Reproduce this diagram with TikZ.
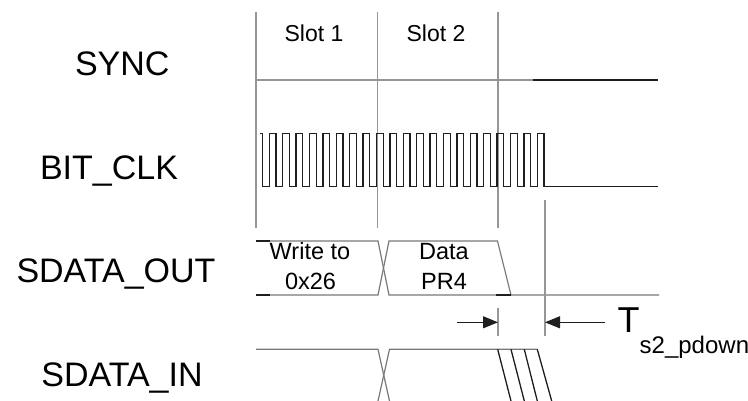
\documentclass[tikz,border=0pt]{standalone}
\usepackage{fontspec}
\setmainfont{Liberation Sans}
\usetikzlibrary{arrows.meta}
\definecolor{grid}{RGB}{150,150,150}
\definecolor{wave}{RGB}{120,120,120}
\definecolor{ink}{RGB}{30,30,30}
\tikzset{
  sig/.style={font=\fontsize{34}{40}\selectfont, inner sep=0pt, anchor=base, text=black},
  slotlab/.style={font=\fontsize{23}{27}\selectfont, inner sep=0pt, anchor=base, text=black},
  datalab/.style={font=\fontsize{23.5}{27}\selectfont, inner sep=0pt, anchor=base, text=black},
  gridline/.style={draw=grid, line width=1.3pt},
  graywave/.style={draw=wave, line width=1.2pt},
  darkwave/.style={draw=ink, line width=1.3pt},
  dimarrow/.style={draw=ink, line width=1pt, -{Triangle[length=15pt,width=12pt]}},
}
\begin{document}
\begin{tikzpicture}[x=1pt,y=-1pt]
\useasboundingbox (0,0) rectangle (748,401);
% labels
\node[sig] (lsync) at (122.3,75.7) {SYNC};
\node[sig] (lclk) at (109,179.3) {BIT\_CLK};
\node[sig] (lout) at (116,282.7) {SDATA\_OUT};
\node[sig] (lin) at (122,386) {SDATA\_IN};
\node[slotlab] (s1) at (314,41.7) {Slot 1};
\node[slotlab] (s2) at (436,41.7) {Slot 2};
% slot grid lines
\draw[gridline] (256,12) -- (256,228);
\draw[gridline] (377.5,12) -- (377.5,228);
\draw[gridline] (498,12) -- (498,228);
% SYNC
\draw[gridline] (256,80) -- (533,80);
\draw[darkwave] (533,80) -- (658,80);
% BIT_CLK
\draw[darkwave] (260,133.3) -- (262.7,133.3) -- (262.7,186.7)
  \foreach \k in {0,...,20}{
    -- ({269.3+13.4*\k},186.7) -- ({269.3+13.4*\k},133.3)
    -- ({276+13.4*\k},133.3) -- ({276+13.4*\k},186.7)
  } -- (658,186.7);
% SDATA_OUT
\draw[graywave] (256,241) -- (378,241) -- (389,295) -- (511,295) -- (659,295);
\draw[graywave] (256,295) -- (378,295) -- (389,241) -- (497.5,241) -- (511,295);
\draw[darkwave] (256,241) -- (270,241);
\draw[darkwave] (256,295) -- (270,295);
\draw[darkwave] (496,295) -- (511,295);
\node[datalab] (w1) at (310,260) {Write to};
\node[datalab] (w2) at (310.5,289.3) {0x26};
\node[datalab] (d1) at (444,260) {Data};
\node[datalab] (d2) at (444,289.3) {PR4};
% SDATA_IN
\draw[graywave] (256,349.3) -- (378,349.3) -- (389.5,401);
\draw[graywave] (378,401) -- (389.5,349.3) -- (537.3,349.3);
\draw[darkwave] (497.7,349.3) -- (511,401);
\draw[darkwave] (511,349.3) -- (524.3,401);
\draw[darkwave] (524.3,349.3) -- (537.3,401);
\draw[darkwave] (537.3,349.3) -- (551.7,401);
% timing marker
\draw[gridline] (498,308) -- (498,336);
\draw[gridline] (545,200) -- (545,336);
\coordinate (a1s) at (456.7,322.3);
\coordinate (a1e) at (498,322.3);
\coordinate (a2s) at (605,322.3);
\coordinate (a2e) at (545,322.3);
\draw[dimarrow] (a1s) -- (a1e);
\draw[dimarrow] (a2s) -- (a2e);
\node[font=\fontsize{36}{40}\selectfont, inner sep=0pt, anchor=base west] (tT) at (617.5,332.7) {T};
\node[font=\fontsize{24}{28}\selectfont, inner sep=0pt, anchor=base west] (tsub) at (639.5,353.3) {s2\_pdown};
\end{tikzpicture}
\end{document}
